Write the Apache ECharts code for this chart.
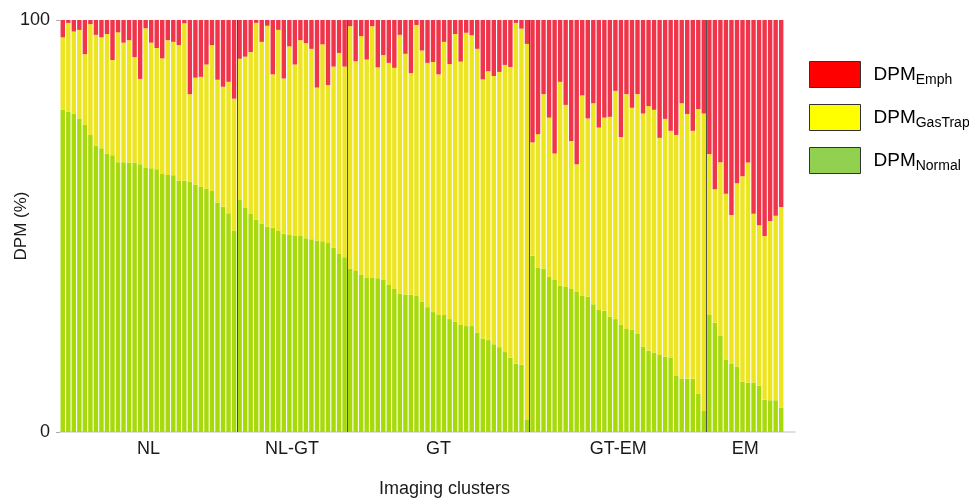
<!DOCTYPE html>
<html>
<head>
<meta charset="utf-8">
<script src="https://cdn.jsdelivr.net/npm/echarts@6/dist/echarts.min.js"></script>
<style>
html,body{margin:0;padding:0;background:#fff;}
#chart{width:969px;height:499px;}
</style>
</head>
<body>
<div id="chart"></div>
<script>
// ---- data ----
const clusterNames = ['NL', 'NL-GT', 'GT', 'GT-EM', 'EM'];
const clusterSizes = [32, 20, 33, 32, 14];

const normal = [
  78.2, 77.8, 77.3, 76.1, 74.5, 72.1, 69.4, 68.9, 67.5, 67.2, 65.5, 65.5, 65.4, 65.4, 65.0, 64.2,
  64.0, 63.8, 62.6, 62.4, 62.3, 61.0, 61.0, 60.8, 60.0, 59.5, 59.0, 58.5, 55.7, 54.7, 53.1, 48.9,
  56.3, 54.5, 52.9, 51.5, 50.6, 49.8, 49.6, 48.8, 48.1, 47.8, 47.6, 47.6, 47.0, 46.8, 46.5, 46.3,
  45.9, 44.7, 43.3, 42.4,
  39.6, 39.1, 38.2, 37.4, 37.4, 37.3, 36.9, 35.7, 34.7, 33.6, 33.3, 33.3, 33.0, 31.6, 30.3, 29.1,
  28.4, 28.4, 27.4, 26.8, 26.0, 25.7, 25.7, 24.1, 22.7, 22.3, 21.3, 20.6, 19.4, 18.0, 16.6, 16.3, 2.9,
  42.8, 39.9, 39.6, 37.6, 36.9, 35.5, 35.2, 34.7, 34.1, 33.0, 32.8, 31.0, 29.6, 29.4, 28.0, 27.4,
  26.1, 25.0, 24.8, 23.8, 20.7, 19.7, 19.3, 18.7, 18.3, 18.1, 13.6, 13.0, 12.9, 12.9, 9.3, 5.1,
  28.4, 26.5, 23.3, 17.6, 16.5, 15.9, 12.2, 12.0, 12.0, 11.2, 7.8, 7.7, 7.7, 5.9
];
const gasTrap = [
  17.6, 21.5, 19.9, 21.5, 17.2, 26.9, 27.0, 26.9, 29.1, 23.1, 31.5, 29.0, 29.7, 25.6, 20.7, 33.8,
  30.5, 29.4, 28.1, 32.7, 32.4, 32.9, 38.2, 21.2, 26.0, 26.7, 30.2, 35.4, 29.8, 29.1, 31.9, 32.0,
  34.3, 36.6, 39.3, 47.8, 44.1, 48.8, 37.2, 48.8, 37.7, 45.8, 41.6, 47.5, 47.4, 46.2, 37.1, 47.8,
  38.3, 44.0, 48.7, 46.3,
  58.9, 50.9, 57.9, 53.0, 61.1, 51.2, 54.6, 53.9, 53.7, 62.8, 58.5, 53.8, 65.8, 61.0, 59.3, 60.7,
  58.4, 66.3, 61.9, 69.8, 63.9, 71.2, 70.6, 68.9, 62.9, 65.3, 65.1, 66.8, 69.7, 70.6, 82.7, 81.6, 91.3,
  27.5, 32.4, 42.4, 38.7, 30.7, 49.5, 44.2, 35.9, 30.9, 48.7, 43.3, 48.8, 44.3, 46.9, 48.5, 55.4,
  45.5, 57.0, 53.9, 58.2, 56.6, 59.4, 58.9, 52.7, 57.7, 55.0, 58.5, 66.8, 64.3, 60.2, 69.1, 72.2,
  39.1, 32.4, 42.2, 40.2, 36.2, 44.5, 49.9, 53.4, 41.0, 39.0, 39.8, 43.5, 44.8, 48.7
];
const emph = [
  4.2, 0.7, 2.8, 2.4, 8.3, 1.0, 3.6, 4.2, 3.4, 9.7, 3.0, 5.5, 4.9, 9.0, 14.3, 2.0,
  5.5, 6.8, 9.3, 4.9, 5.3, 6.1, 0.8, 18.0, 14.0, 13.8, 10.8, 6.1, 14.5, 16.2, 15.0, 19.1,
  9.4, 8.9, 7.8, 0.7, 5.3, 1.4, 13.2, 2.4, 14.2, 6.4, 10.8, 4.9, 5.6, 7.0, 16.4, 5.9,
  15.8, 11.3, 8.0, 11.3,
  1.5, 10.0, 3.9, 9.6, 1.5, 11.5, 8.5, 10.4, 11.6, 3.6, 8.2, 12.9, 1.2, 7.4, 10.4, 10.2,
  13.2, 5.3, 10.7, 3.4, 10.1, 3.1, 3.7, 7.0, 14.4, 12.4, 13.6, 12.6, 10.9, 11.4, 0.7, 2.1, 5.8,
  29.7, 27.7, 18.0, 23.7, 32.4, 15.0, 20.6, 29.4, 35.0, 18.3, 23.9, 20.2, 26.1, 23.7, 23.5, 17.2,
  28.4, 18.0, 21.3, 18.0, 22.7, 20.9, 21.8, 28.6, 24.0, 26.9, 27.9, 20.2, 22.8, 26.9, 21.6, 22.7,
  32.5, 41.1, 34.5, 42.2, 47.3, 39.6, 37.9, 34.6, 47.0, 49.8, 52.4, 48.8, 47.5, 45.4
];
const yTicks = [0, 100];

// ---- derived layout helpers ----
const nBars = normal.length;
const categories = normal.map((_, i) => 'S' + (i + 1));
const boundaries = [];
const centers = [];
let acc = 0;
clusterSizes.forEach((s, i) => {
  centers.push(acc + s / 2);
  acc += s;
  if (i < clusterSizes.length - 1) boundaries.push(acc);
});
const slotCount = nBars + 2; // reference axis extends two empty slots past the last bar

const FONT = '"Liberation Sans", Arial, Helvetica, sans-serif';
const colors = { Normal: '#A6DA09', GasTrap: '#EEE521', Emph: '#F0344A' };
const legendColors = { Emph: '#FF0000', GasTrap: '#FFFF00', Normal: '#92D050' };

const chart = echarts.init(document.getElementById('chart'), null, { renderer: 'canvas' });

const option = {
  animation: false,
  backgroundColor: '#ffffff',
  textStyle: { fontFamily: FONT },
  grid: { left: 60, right: 174, top: 20, bottom: 67, containLabel: false, outerBoundsMode: 'none' },
  legend: {
    orient: 'vertical',
    left: 804,
    top: 56,
    itemWidth: 51,
    itemHeight: 26,
    itemGap: 16,
    icon: 'rect',
    selectedMode: false,
    data: ['Emph', 'GasTrap', 'Normal'].map(n => ({
      name: n,
      itemStyle: { color: legendColors[n], borderColor: '#333333', borderWidth: 1 }
    })),
    formatter: n => '{a|DPM}{b|' + n + '}',
    textStyle: {
      fontFamily: FONT,
      color: '#000',
      rich: {
        a: { fontSize: 19, lineHeight: 26, fontFamily: FONT, color: '#000', padding: [0, 0, 0, 8] },
        b: { fontSize: 14, lineHeight: 14, fontFamily: FONT, color: '#000', verticalAlign: 'bottom' }
      }
    }
  },
  xAxis: [
    {
      type: 'category',
      data: categories,
      max: slotCount - 1,
      axisLine: { show: true, lineStyle: { color: '#d4d4d4', width: 1.5 } },
      axisTick: { show: false },
      axisLabel: { show: false },
      splitLine: { show: false }
    },
    {
      type: 'value',
      min: 0,
      max: slotCount,
      position: 'bottom',
      axisLine: { show: false },
      axisTick: { show: false },
      splitLine: { show: false },
      axisLabel: {
        show: true,
        customValues: centers,
        formatter: v => {
          const idx = centers.findIndex(c => Math.abs(c - v) < 1e-6);
          return idx >= 0 ? clusterNames[idx] : '';
        },
        fontSize: 18,
        color: '#1a1a1a',
        fontFamily: FONT,
        margin: 8
      },
      name: 'Imaging clusters',
      nameLocation: 'middle',
      nameGap: 48,
      nameMoveOverlap: false,
      nameTextStyle: { fontSize: 18, color: '#1a1a1a', fontFamily: FONT, padding: [0, 0, 0, 34] }
    }
  ],
  yAxis: {
    type: 'value',
    min: 0,
    max: 100,
    interval: 100,
    axisLine: { show: false },
    axisTick: { show: true, length: 4, lineStyle: { color: '#aaaaaa' } },
    splitLine: { show: false },
    axisLabel: {
      fontSize: 18, color: '#1a1a1a', fontFamily: FONT, margin: 10,
      formatter: v => (yTicks.indexOf(v) >= 0 ? String(v) : '')
    },
    name: 'DPM (%)',
    nameLocation: 'middle',
    nameGap: 30,
    nameMoveOverlap: false,
    nameTextStyle: { fontSize: 17, color: '#1a1a1a', fontFamily: FONT }
  },
  series: [
    {
      name: 'Normal', type: 'bar', stack: 'dpm', data: normal,
      barCategoryGap: '20%',
      itemStyle: { color: colors.Normal },
      emphasis: { disabled: true }
    },
    {
      name: 'GasTrap', type: 'bar', stack: 'dpm', data: gasTrap,
      barCategoryGap: '20%',
      itemStyle: { color: colors.GasTrap },
      emphasis: { disabled: true }
    },
    {
      name: 'Emph', type: 'bar', stack: 'dpm', data: emph,
      barCategoryGap: '20%',
      itemStyle: { color: colors.Emph },
      emphasis: { disabled: true }
    },
    {
      name: 'separators', type: 'line', xAxisIndex: 1, yAxisIndex: 0,
      data: boundaries.map(b => [b, 0]),
      symbol: 'none',
      lineStyle: { width: 0, opacity: 0 },
      silent: true,
      z: 5,
      markLine: {
        silent: true,
        symbol: ['none', 'none'],
        label: { show: false },
        lineStyle: { color: '#333333', width: 1, type: 'solid', opacity: 0.85 },
        data: boundaries.map(b => ({ xAxis: b }))
      }
    }
  ]
};

chart.setOption(option);
</script>
</body>
</html>
